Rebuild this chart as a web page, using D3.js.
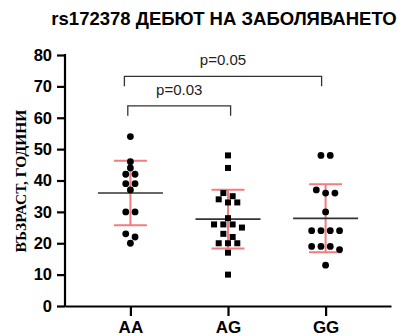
<!DOCTYPE html>
<html>
<head>
<meta charset="utf-8">
<script src="https://cdn.jsdelivr.net/npm/d3@7"></script>
<style>
  body { margin: 0; background: #fff; }
  svg { display: block; }
</style>
</head>
<body>
<svg width="405" height="336"></svg>
<script>
// genotype groups and ages
var groups = ["AA", "AG", "GG"];
var ageAA = [54, 46, 44, 42, 42, 39, 39, 37, 30, 30, 23, 22, 20];
var ageAG = [48, 44, 36, 35, 34, 33, 33, 28, 26, 26, 26, 25, 23, 22, 20, 20, 20, 17, 10];
var ageGG = [48, 48, 37, 36, 36, 30, 24, 24, 24, 24, 19, 19, 19, 18, 13];
var yTicks = [0, 10, 20, 30, 40, 50, 60, 70, 80];
var comparisons = [
    {a: "AA", b: "GG", label: "p=0.05", level: 73.2},
    {a: "AA", b: "AG", label: "p=0.03", level: 63.8}
];

var svg = d3.select("svg");
var sans = "'Liberation Sans', Arial, sans-serif";
var red = "#f27c7e";

var x = d3.scalePoint().domain(groups).range([65, 391]).padding(0.67);
var y = d3.scaleLinear().domain([0, 80]).range([306, 55]);

var data = [
    {g: "AA", vals: ageAA, shape: "circle"},
    {g: "AG", vals: ageAG, shape: "square"},
    {g: "GG", vals: ageGG, shape: "circle"}
];

// title
svg.append("text")
    .attr("x", 224)
    .attr("y", 25)
    .attr("text-anchor", "middle")
    .style("font-family", sans)
    .style("font-weight", "bold")
    .style("font-size", "18.5px")
    .text("rs172378 ДЕБЮТ НА ЗАБОЛЯВАНЕТО");

// y label
svg.append("text")
    .attr("transform", "translate(26,181) rotate(-90)")
    .attr("text-anchor", "middle")
    .style("font-family", "'Liberation Serif', 'Times New Roman', serif")
    .style("font-weight", "bold")
    .style("font-size", "15.5px")
    .text("ВЪЗРАСТ, ГОДИНИ");

// axes
var yAxis = svg.append("g")
    .attr("transform", "translate(65,0)")
    .call(d3.axisLeft(y).tickValues(yTicks).tickSize(8).tickSizeOuter(0).tickPadding(5));

var xAxis = svg.append("g")
    .attr("transform", "translate(0,306)")
    .call(d3.axisBottom(x).tickSize(10).tickSizeOuter(0).tickPadding(5));

[yAxis, xAxis].forEach(function (ax) {
    ax.select(".domain").attr("stroke", "#000").attr("stroke-width", 2.2);
    ax.selectAll(".tick line").attr("stroke", "#000").attr("stroke-width", 2.2);
    ax.selectAll("text")
        .attr("fill", "#000")
        .style("font-family", sans)
        .style("font-weight", "bold");
});
yAxis.selectAll("text").style("font-size", "16.5px");
xAxis.selectAll("text").style("font-size", "17px");

// fix the corner so both lines meet
yAxis.select(".domain").attr("d", "M0," + (y(80) - 1) + "V" + (y(0) + 1));

// significance brackets
var br = svg.append("g").attr("class", "brackets");
comparisons.forEach(function (c, i) {
    var x1 = x(c.a) - (i === 0 ? 6 : 2.6);
    var x2 = x(c.b) + (i === 0 ? -4 : 2.6);
    var yy = y(c.level);
    br.append("path")
        .attr("d", "M" + x1 + "," + (yy + 10) + "V" + yy + "H" + x2 + "V" + (yy + 10))
        .attr("fill", "none")
        .attr("stroke", "#333")
        .attr("stroke-width", 1.3);
    br.append("text")
        .attr("x", (x1 + x2) / 2)
        .attr("y", yy - 11)
        .attr("text-anchor", "middle")
        .style("font-family", sans)
        .style("font-size", "15px")
        .attr("fill", "#222")
        .text(c.label);
});

// mean and SD
var stats = svg.append("g").attr("class", "stats");
data.forEach(function (d) {
    var m = d3.mean(d.vals);
    var s = d3.deviation(d.vals);
    var cx = x(d.g);
    stats.append("line")
        .attr("x1", cx).attr("x2", cx)
        .attr("y1", y(m + s)).attr("y2", y(m - s))
        .attr("stroke", red).attr("stroke-width", 2);
    [m + s, m - s].forEach(function (v) {
        stats.append("line")
            .attr("x1", cx - 16.5).attr("x2", cx + 16.5)
            .attr("y1", y(v)).attr("y2", y(v))
            .attr("stroke", red).attr("stroke-width", 2);
    });
    stats.append("line")
        .attr("x1", cx - 32.5).attr("x2", cx + 32.5)
        .attr("y1", y(m)).attr("y2", y(m))
        .attr("stroke", "#333").attr("stroke-width", 1.6);
});

// scatter: rows of close values get spread sideways
function swarm(vals, cx) {
    var pts = vals.map(function (v) { return {v: v, py: y(v)}; })
        .sort(function (a, b) { return a.py - b.py; });
    var rows = [], row = null;
    pts.forEach(function (p) {
        if (!row || p.py - row[0].py >= 6) {
            row = [p];
            rows.push(row);
        } else {
            row.push(p);
        }
    });
    rows.forEach(function (r) {
        r.forEach(function (p, i) {
            p.px = cx + (i - (r.length - 1) / 2) * 9.3;
        });
    });
    return pts;
}

var dots = svg.append("g").attr("class", "dots");
data.forEach(function (d) {
    var pts = swarm(d.vals, x(d.g));
    if (d.shape === "circle") {
        dots.selectAll(null)
            .data(pts)
            .enter().append("circle")
            .attr("cx", function (p) { return p.px; })
            .attr("cy", function (p) { return p.py; })
            .attr("r", 3.4)
            .attr("fill", "#000");
    } else {
        dots.selectAll(null)
            .data(pts)
            .enter().append("rect")
            .attr("x", function (p) { return p.px - 3; })
            .attr("y", function (p) { return p.py - 3; })
            .attr("width", 6)
            .attr("height", 6)
            .attr("fill", "#000");
    }
});
</script>
</body>
</html>
